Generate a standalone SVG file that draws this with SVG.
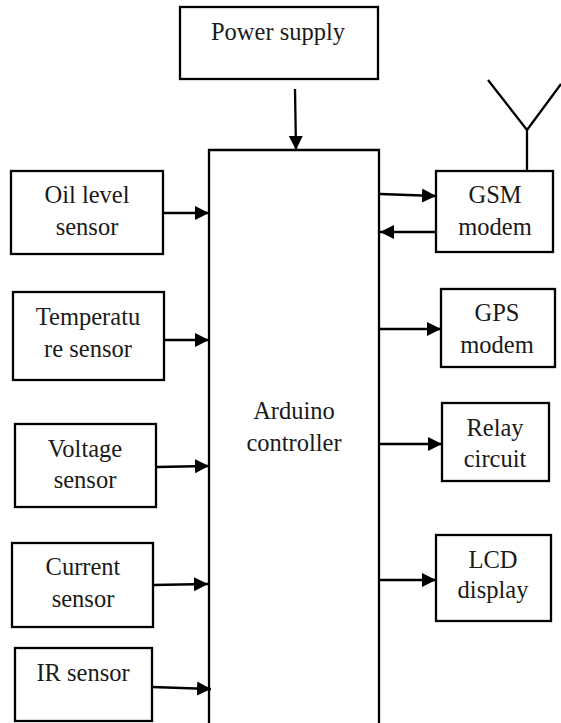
<svg xmlns="http://www.w3.org/2000/svg" width="561" height="723" viewBox="0 0 561 723">
<style>
.b{fill:#fff;stroke:#000;stroke-width:2.3}
.l{stroke:#000;stroke-width:2.3;fill:none}
text{font-family:"Liberation Serif","Times New Roman",serif;font-size:24.5px;fill:#1a1a1a;text-anchor:middle}
</style>
<defs><marker id="a" markerUnits="userSpaceOnUse" markerWidth="15" markerHeight="15" refX="14" refY="7" orient="auto"><path d="M0 0L14 7L0 14Z" fill="#000"/></marker></defs>
<rect width="561" height="723" fill="#fff"/>
<g id="power"><rect class="b" x="180" y="7" width="198" height="72"/><text x="278" y="40">Power supply</text></g>
<g id="arduino"><path class="b" d="M209 723V150H379V723"/><text x="294" y="419">Arduino</text><text x="294" y="451">controller</text></g>
<g id="oil"><rect class="b" x="11" y="171" width="152" height="83"/><text x="87" y="203">Oil level</text><text x="87" y="235">sensor</text></g>
<g id="temp"><rect class="b" x="13" y="292" width="151" height="88"/><text x="88" y="325">Temperatu</text><text x="88" y="357">re sensor</text></g>
<g id="volt"><rect class="b" x="15" y="424" width="141" height="83"/><text x="85" y="457">Voltage</text><text x="85" y="488">sensor</text></g>
<g id="curr"><rect class="b" x="12" y="543" width="141" height="84"/><text x="83" y="575">Current</text><text x="83" y="607">sensor</text></g>
<g id="ir"><rect class="b" x="15" y="648" width="137" height="73"/><text x="83" y="681">IR sensor</text></g>
<g id="gsm"><rect class="b" x="436" y="171" width="117" height="81"/><text x="495" y="203">GSM</text><text x="495" y="235">modem</text></g>
<g id="gps"><rect class="b" x="441" y="289" width="114" height="78"/><text x="497" y="321">GPS</text><text x="497" y="353">modem</text></g>
<g id="relay"><rect class="b" x="442" y="403" width="107" height="78"/><text x="495" y="436">Relay</text><text x="495" y="467">circuit</text></g>
<g id="lcd"><rect class="b" x="436" y="535" width="115" height="86"/><text x="493" y="568">LCD</text><text x="493" y="598">display</text></g>
<g id="antenna"><path class="l" d="M527 171V130M527 130L488 80M527 130L561 84"/></g>
<g id="connectors">
<path class="l" marker-end="url(#a)" d="M295 89L296 150"/>
<path class="l" marker-end="url(#a)" d="M163 213H209"/>
<path class="l" marker-end="url(#a)" d="M164 340H209"/>
<path class="l" marker-end="url(#a)" d="M156 467L209 466"/>
<path class="l" marker-end="url(#a)" d="M153 585L208 584"/>
<path class="l" marker-end="url(#a)" d="M152 687L211 689"/>
<path class="l" marker-end="url(#a)" d="M380 194L436 196"/>
<path class="l" marker-end="url(#a)" d="M436 232H380"/>
<path class="l" marker-end="url(#a)" d="M378 329H441"/>
<path class="l" marker-end="url(#a)" d="M379 444H442"/>
<path class="l" marker-end="url(#a)" d="M379 580H436"/>
</g>
</svg>
